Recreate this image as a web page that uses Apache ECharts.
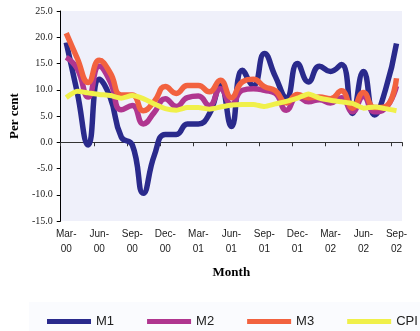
<!DOCTYPE html>
<html>
<head>
<meta charset="utf-8">
<script src="https://cdn.jsdelivr.net/npm/echarts@6/dist/echarts.min.js"></script>
<style>html,body{margin:0;padding:0;background:#fff;}#c{width:420px;height:331px;}</style>
</head>
<body>
<div id="c"></div>
<script>
var categories = ['Mar-00','Apr-00','May-00','Jun-00','Jul-00','Aug-00','Sep-00','Oct-00','Nov-00','Dec-00',
  'Jan-01','Feb-01','Mar-01','Apr-01','May-01','Jun-01','Jul-01','Aug-01','Sep-01','Oct-01','Nov-01','Dec-01',
  'Jan-02','Feb-02','Mar-02','Apr-02','May-02','Jun-02','Jul-02','Aug-02','Sep-02'];
var m1 = [19.0, 9.5, -0.5, 12.0, 8.5, 1.0, -0.5, -9.7, -2.5, 1.5, 1.5, 3.5, 3.5, 5.4, 10.8, 3.0,
  13.7, 10.8, 16.9, 12.5, 8.5, 15.0, 11.5, 14.5, 13.5, 14.8, 5.5, 13.5, 5.2, 10.0, 18.8];
var m2 = [16.2, 14.0, 8.6, 14.5, 11.5, 6.2, 7.0, 3.5, 5.7, 8.3, 6.8, 8.5, 8.8, 7.0, 10.2, 7.2,
  9.9, 10.2, 9.9, 9.3, 6.1, 8.7, 7.7, 8.1, 7.5, 8.5, 5.8, 8.7, 5.8, 6.5, 10.7];
var m3 = [20.8, 16.0, 11.4, 15.6, 13.2, 9.0, 9.0, 6.0, 7.8, 10.6, 9.3, 10.8, 10.8, 9.6, 11.8, 8.5,
  11.5, 12.0, 10.6, 9.8, 7.5, 9.1, 8.5, 8.6, 8.3, 9.8, 6.5, 9.5, 6.6, 6.8, 12.2];
var cpi = [8.5, 9.7, 9.4, 9.1, 8.9, 8.4, 8.9, 8.3, 7.3, 6.4, 6.1, 6.6, 6.6, 6.3, 6.7, 7.1,
  7.2, 7.2, 6.8, 7.3, 7.8, 8.4, 9.2, 8.4, 8.0, 7.7, 7.4, 6.5, 6.7, 6.4, 6.0];
var seriesNames = ['M1', 'M2', 'M3', 'CPI'];
var seriesColors = ['#2A2A8C', '#B0368F', '#F2623F', '#F0F04A'];

var chart = echarts.init(document.getElementById('c'), null, {renderer: 'canvas'});
function mk(name, data, color, smooth, width) {
  return {name: name, type: 'line', data: data, smooth: smooth, symbol: 'none',
    lineStyle: {color: color, width: width}, itemStyle: {color: color}};
}
chart.setOption({
  animation: false,
  backgroundColor: '#ffffff',
  graphic: [{type: 'rect', shape: {x: 29, y: 302, width: 391, height: 29}, style: {fill: '#FAFBFE'}, z: -10}],
  grid: {left: 52, right: 18, top: 11, bottom: 110, show: true, backgroundColor: '#EFF0FA', borderWidth: 0},
  xAxis: {
    type: 'category', data: categories, boundaryGap: true,
    name: 'Month', nameLocation: 'middle', nameGap: 45,
    nameTextStyle: {fontFamily: 'Liberation Serif', fontWeight: 'bold', fontSize: 13, color: '#000'},
    axisLine: {lineStyle: {color: '#333', width: 1}},
    axisTick: {show: true, interval: 2, alignWithLabel: false, length: 4, lineStyle: {color: '#333'}},
    axisLabel: {interval: 2, margin: 6, fontFamily: 'Liberation Sans', fontSize: 10, color: '#222', lineHeight: 15,
      formatter: function (v) { var p = v.split('-'); return p[0] + '-\n' + p[1]; }},
    splitLine: {show: false}
  },
  yAxis: {
    type: 'value', min: -15, max: 25, interval: 5,
    name: 'Per cent', nameLocation: 'middle', nameGap: 37, nameRotate: 90,
    nameTextStyle: {fontFamily: 'Liberation Serif', fontWeight: 'bold', fontSize: 13, color: '#000'},
    axisLine: {show: true, lineStyle: {color: '#000', width: 1}},
    axisTick: {show: true, length: 4, lineStyle: {color: '#000'}},
    axisLabel: {margin: 8, fontFamily: 'Liberation Serif', fontSize: 10, color: '#222',
      formatter: function (v) { return v.toFixed(1); }},
    splitLine: {show: false}
  },
  legend: {
    left: 47, top: 315, width: 600, padding: 0, itemWidth: 44, itemHeight: 5, itemGap: 33, icon: 'rect',
    textStyle: {fontFamily: 'Liberation Sans', fontSize: 13, color: '#222'},
    data: seriesNames
  },
  series: [
    mk(seriesNames[0], m1, seriesColors[0], 0.5, 5.5),
    mk(seriesNames[1], m2, seriesColors[1], 0.5, 5.5),
    mk(seriesNames[2], m3, seriesColors[2], 0.5, 5.5),
    mk(seriesNames[3], cpi, seriesColors[3], 0.2, 5)
  ]
});
</script>
</body>
</html>
